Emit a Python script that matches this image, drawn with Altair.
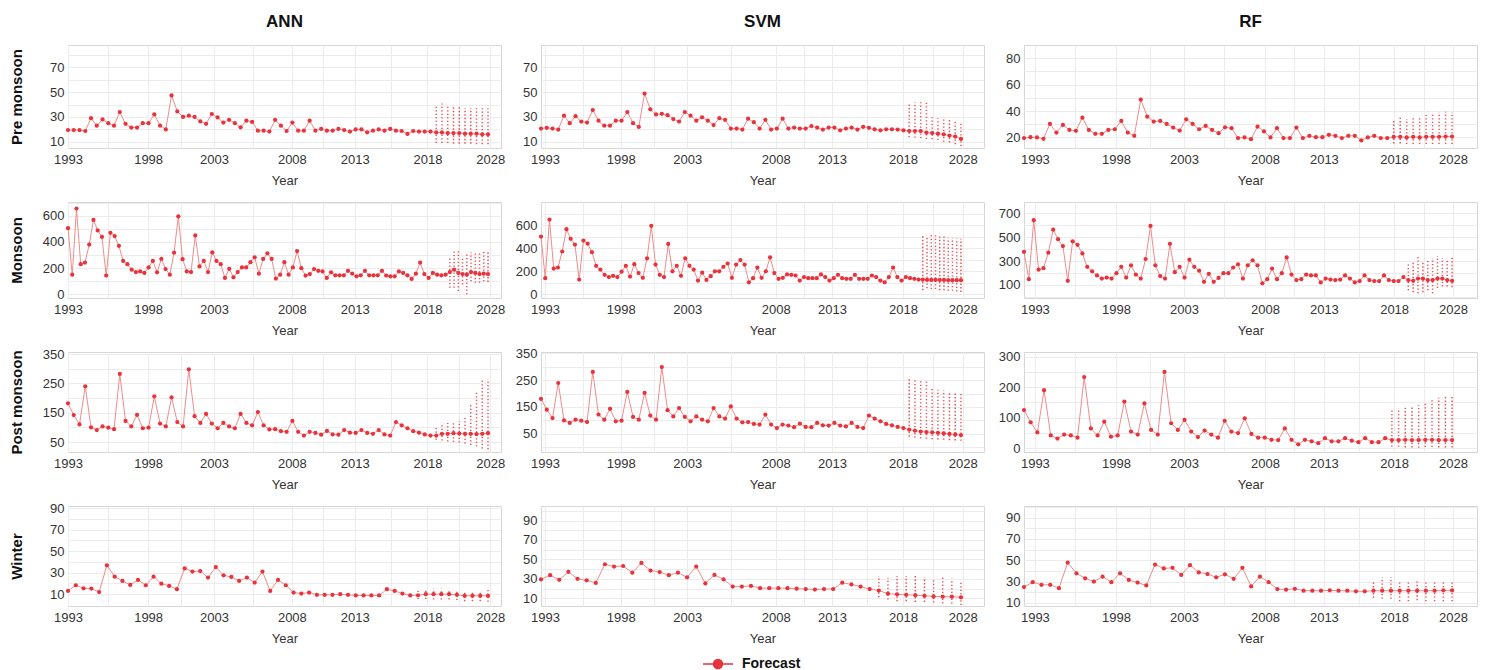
import altair as alt
import pandas as pd

FONT = "Liberation Sans"
RED = "#e8323c"
LINE_RED = "#f28b8b"
TEXT = "#333333"

MODELS = ["ANN", "SVM", "RF"]
SEASONS = ["Pre monsoon", "Monsoon", "Post monsoon", "Winter"]
YEAR_LABELS = ["1993", "1998", "2003", "2008", "2013", "2018", "2028"]

# ---------------- data ----------------
ANN_PRE_HIST = [19.5,19.5,19.5,18.7,29,23,28,25,23,34,24.5,21.5,21.5,25,25,32,23,20,47.4,34.5,
                30,31,30,26.4,24.5,32.4,29.6,25.5,27.7,25,21.7,27,26,19,19,18.2,27.7,23,18.7,25.5,
                19,19,27,19,20.4,19,19,20.4,19.5,18.2,20,20,17.6,19,20,19,20.4,19,18.7,16.3,
                18.7,18.2,18.2,18.2]
ANN_PRE_FC = [17.5,17.5,17,17,17,16.5,16.5,16.5,16,16]
ANN_PRE_HI = [40,40.8,40,39.5,38,37,37,37,37,37]
ANN_PRE_LO = [9,9,9,8.5,8.5,8.5,8.5,8,8,8]

SVM_PRE_HIST = [20.7,21.3,20.7,19.9,31,25,30.6,26.3,25.5,35.6,27,23,23,27,27,34,25,22,48.9,36.2,
                32,32.5,31.4,28.3,26.3,34,31,27,29.7,27,23.5,29,27.7,20.7,20.7,19.9,28.6,25.8,20.7,27.7,
                19.9,20.7,28.6,20.7,21.5,20.7,20.7,22.7,21.5,19.9,21.5,21.5,19.3,20.7,21.5,19.9,22.1,21.3,20.1,19.3,
                20.1,20.1,19.9,19.3]
SVM_PRE_FC = [18.7,18.7,18.7,17.3,17,16.5,16,15,14.2,12.3]
SVM_PRE_HI = [41.8,41.8,41.8,41.8,29.7,29,28.5,27.7,27,25]
SVM_PRE_LO = [13.7,13.2,12.8,12.3,12,11.5,10,9.5,8,6.6]

RF_PRE_HIST = [19.5,20.2,20,19,30.2,23.7,29.5,25.7,25,35,25.7,22.7,22.7,25.7,26.2,32.5,23.7,21.2,48.7,35.7,
               32,32.5,30.2,27.5,25.2,33.7,30.2,26.2,28.7,25.7,23.2,27.7,27,19.5,20,18.7,28.2,24.5,20,27,
               19.5,19.5,27.5,19.5,21.2,20.2,20.2,22,21.2,19.5,21.2,21.2,17.7,20,21.2,19.5,19.5]
RF_PRE_FC = [20.5,20.5,20,20.5,20,20.5,20.5,20.5,20.7,20.7]
RF_PRE_HI = [34,35,34,35.7,35.5,37,38,39,39.5,39]
RF_PRE_LO = [15.5,15.5,15,15,15,15,15,15,15,15]

ANN_MON_HIST = [505,150,655,230,243,380,568,488,438,143,470,445,370,255,230,188,170,175,163,205,
                255,168,270,193,150,318,595,268,175,170,450,213,255,170,320,255,230,125,195,130,
                170,205,205,245,283,158,270,313,270,120,150,245,150,205,330,200,143,155,193,180,
                175,125,168,145,145,145,180,158,138,145,180,145,145,145,180,143,138,138,175,163,
                145,118,158,243,155,125,163,150,145,150]
ANN_MON_FC = [170,188,163,155,150,170,163,155,158,155]
ANN_MON_HI = [275,338,338,270,305,320,320,320,325,330]
ANN_MON_LO = [50,50,25,75,0,100,88,88,100,95]

SVM_MON_HIST = [500,140,648,223,232,371,564,481,431,128,466,440,365,247,214,169,149,160,149,196,
                247,154,261,184,143,312,594,258,169,149,437,199,247,160,312,247,214,119,187,125,
                157,199,199,238,267,143,258,297,258,104,140,232,143,199,321,184,134,143,172,169,
                163,119,149,140,140,140,172,149,119,140,169,140,134,134,169,134,134,134,163,149,
                119,104,149,232,149,119,149,140,134,128]
SVM_MON_FC = [128,125,125,125,125,125,122,122,122,122]
SVM_MON_HI = [520,500,529,529,500,500,490,490,484,481]
SVM_MON_LO = [36,53,45,45,36,36,30,30,24,21]

RF_MON_HIST = [377,148,642,227,240,370,563,483,425,134,465,436,364,251,214,179,153,161,153,198,
               251,161,264,187,153,317,594,264,174,153,444,206,251,161,311,251,219,126,193,126,
               158,198,198,245,272,153,264,306,264,113,148,237,148,198,330,187,140,148,187,179,
               179,121,153,145,140,145,179,153,121,132,179,140,132,132,179,140,132,132,166]
RF_MON_FC = [140,134,153,153,140,140,153,153,140,134]
RF_MON_HI = [272,298,351,293,311,325,343,325,311,330]
RF_MON_LO = [55,39,29,39,55,30,74,87,87,81]

ANN_POST_HIST = [182,142,110,240,100,91,103,99,94,282,122,103,143,97,99,206,113,103,202,118,
                 103,298,138,115,146,113,97,115,103,97,146,115,107,152,107,93,94,87,85,122,
                 85,72,85,81,75,88,76,75,91,82,81,91,81,78,91,76,72,118,107,97,
                 87,82,76,72]
ANN_POST_FC = [72,78,78,80,79,78,78,77,78,80]
ANN_POST_HI = [100,110,115,118,122,132,175,225,260,265]
ANN_POST_LO = [58,55,52,50,48,45,40,35,28,25]

SVM_POST_HIST = [180,140,109,239,100,91,103,99,94,280,122,103,143,97,99,206,113,103,202,118,
                 103,298,138,115,146,113,97,115,103,97,146,115,107,152,107,93,94,87,85,122,
                 85,72,85,81,75,88,76,75,91,82,81,91,81,78,91,76,72,118,107,97,
                 87,82,76,72]
SVM_POST_FC = [66,62,59,57,56,54,52,50,48,46]
SVM_POST_HI = [257,251,249,245,220,214,212,208,204,199]
SVM_POST_LO = [40,36,33,32,30,29,28,27,26,25]

RF_POST_HIST = [125,85,52,190,42,32,45,42,35,233,65,42,87,38,42,153,55,45,147,60,
                45,250,82,60,93,55,37,58,45,35,90,55,50,98,47,35,35,28,27,65,
                28,13,28,23,17,33,23,23,33,25,20,33,20,20,33]
RF_POST_FC = [27,27,28,27,27,28,28,27,27,27]
RF_POST_HI = [125,128,133,137,142,150,158,165,173,170]
RF_POST_LO = [5,5,3,3,2,4,4,3,3,3]

ANN_WIN_HIST = [13,18.3,15.5,15.2,12,36.8,26.3,22.3,18.6,23.2,18.3,26.3,19.8,17.7,14.6,34,31,31.5,25.4,35.2,
                27.5,26,22.3,25.4,20.8,31,13,23.2,18.3,11.5,10.6,11.5,9.4,9.4,9.4,10,9.4,8.8,8.8,8.8,
                8.8,14.6,13,10.6,8.8]
ANN_WIN_FC = [9,10,10,10,10,9.4,8.5,8.5,8.5,8.5]
ANN_WIN_HI = [13,14,15,15,14.5,14,13,13,13,14]
ANN_WIN_LO = [5.5,5.5,5,5,5,4.5,3.5,3.5,3.5,3]

SVM_WIN_HIST = [29.3,33.7,29,37.2,30,28.4,25.8,45,42.6,43.2,36.3,46.4,38.5,37,33.7,36.3,31.5,42.6,25.2,34,
                29.3,22,22,22.7,20.4,20.4,20.4,20.4,19.8,19.5,18.9,19.5,19.5,26,24.2,22,19.5]
SVM_WIN_FC = [17.9,14.7,14.1,13.5,13.2,12.5,11.9,11.6,11.6,11]
SVM_WIN_HI = [33,31,33,33,33,31.5,30.6,32.5,30,27.7]
SVM_WIN_LO = [11,8.7,7,7,6.2,6.2,5.6,4.6,4.6,3]

RF_WIN_HIST = [24.8,29.4,26.9,26.9,23.8,47.8,37.7,33,30,34.6,29.4,37.7,31.5,29,26.3,46,42.3,42.9,36.2,45.4,
               38.6,37,34,36.8,32.5,42.9,25.4,34.6,29.4,22.9,22.3,23.2,21.4,21.4,21.4,21.7,21.4,21.4,20.8,20.8]
RF_WIN_FC = [21.4,21.4,21.4,21.4,21.4,21.4,21.4,21.4,21.7,21.7]
RF_WIN_HI = [30,34,34,29,29,30,30,30,31,31]
RF_WIN_LO = [14.6,13.7,13.7,11.5,11.5,12.5,11.5,11.5,11.5,11.5]

SERIES = {
    ("ANN", "Pre monsoon"): (ANN_PRE_HIST, ANN_PRE_FC, ANN_PRE_HI, ANN_PRE_LO),
    ("SVM", "Pre monsoon"): (SVM_PRE_HIST, SVM_PRE_FC, SVM_PRE_HI, SVM_PRE_LO),
    ("RF", "Pre monsoon"): (RF_PRE_HIST, RF_PRE_FC, RF_PRE_HI, RF_PRE_LO),
    ("ANN", "Monsoon"): (ANN_MON_HIST, ANN_MON_FC, ANN_MON_HI, ANN_MON_LO),
    ("SVM", "Monsoon"): (SVM_MON_HIST, SVM_MON_FC, SVM_MON_HI, SVM_MON_LO),
    ("RF", "Monsoon"): (RF_MON_HIST, RF_MON_FC, RF_MON_HI, RF_MON_LO),
    ("ANN", "Post monsoon"): (ANN_POST_HIST, ANN_POST_FC, ANN_POST_HI, ANN_POST_LO),
    ("SVM", "Post monsoon"): (SVM_POST_HIST, SVM_POST_FC, SVM_POST_HI, SVM_POST_LO),
    ("RF", "Post monsoon"): (RF_POST_HIST, RF_POST_FC, RF_POST_HI, RF_POST_LO),
    ("ANN", "Winter"): (ANN_WIN_HIST, ANN_WIN_FC, ANN_WIN_HI, ANN_WIN_LO),
    ("SVM", "Winter"): (SVM_WIN_HIST, SVM_WIN_FC, SVM_WIN_HI, SVM_WIN_LO),
    ("RF", "Winter"): (RF_WIN_HIST, RF_WIN_FC, RF_WIN_HI, RF_WIN_LO),
}

# y axis: (domain, labelled ticks, minor grid)
Y_AXES = {
    ("ANN", "Pre monsoon"): ([5, 88], [10, 30, 50, 70], [20, 40, 60, 80]),
    ("SVM", "Pre monsoon"): ([5, 88], [10, 30, 50, 70], [20, 40, 60, 80]),
    ("RF", "Pre monsoon"): ([12, 90], [20, 40, 60, 80], [30, 50, 70]),
    ("ANN", "Monsoon"): ([-28, 705], [0, 200, 400, 600], [100, 300, 500, 700]),
    ("SVM", "Monsoon"): ([-32, 800], [0, 200, 400, 600], [100, 300, 500, 700]),
    ("RF", "Monsoon"): ([-10, 795], [100, 300, 500, 700], [0, 200, 400, 600]),
    ("ANN", "Post monsoon"): ([16, 357], [50, 150, 250, 350], [100, 200, 300]),
    ("SVM", "Post monsoon"): ([-17, 354], [50, 150, 250, 350], [0, 100, 200, 300]),
    ("RF", "Post monsoon"): ([-12, 315], [0, 100, 200, 300], [50, 150, 250]),
    ("ANN", "Winter"): ([-1, 92], [10, 30, 50, 70, 90], [20, 40, 60, 80]),
    ("SVM", "Winter"): ([2, 105], [10, 30, 50, 70, 90], [20, 40, 60, 80, 100]),
    ("RF", "Winter"): ([7, 101], [10, 30, 50, 70, 90], [20, 40, 60, 80, 100]),
}

# layout of each column / row
TICK_FRAC = {
    "ANN": [0.0, 0.185, 0.337, 0.517, 0.662, 0.83, 0.975],
    "SVM": [0.009, 0.18, 0.33, 0.53, 0.657, 0.817, 0.952],
    "RF": [0.024, 0.203, 0.353, 0.532, 0.662, 0.817, 0.947],
}
LAST_FRAC = {"ANN": 0.97, "SVM": 0.948, "RF": 0.945}
PANEL_W = {"ANN": 433, "SVM": 443, "RF": 453}
PANEL_H = {"Pre monsoon": 103, "Monsoon": 96, "Post monsoon": 100, "Winter": 100}

LEGEND_SYMBOL = "M-1,0L1,0M-0.3,0A0.3,0.3,0,1,1,0.3,0A0.3,0.3,0,1,1,-0.3,0Z"


def panel(model, season):
    hist, fc, hi, lo = SERIES[(model, season)]
    H = len(hist)
    N = H + len(fc)
    df = pd.DataFrame({"idx": list(range(N)), "value": list(hist) + list(fc),
                       "series": ["Forecast"] * N})
    bd = pd.DataFrame({"idx": list(range(H, N)), "lo": lo, "hi": hi})

    xmax = (N - 1) / LAST_FRAC[model]
    ticks = [round(f * xmax, 4) for f in TICK_FRAC[model]]
    mids = [round((a + b) / 2, 4) for a, b in zip(ticks[:-1], ticks[1:])]
    xvals = sorted(ticks + mids)
    tick_arr = "[" + ",".join(repr(t) for t in ticks) + "]"
    lab_arr = "[" + ",".join("'" + l + "'" for l in YEAR_LABELS) + "]"
    x_expr = f"indexof({tick_arr}, datum.value) >= 0 ? {lab_arr}[indexof({tick_arr}, datum.value)] : ''"

    ydom, ylab, yminor = Y_AXES[(model, season)]
    yvals = sorted(ylab + [m for m in yminor if ydom[0] <= m <= ydom[1]])
    ylab_arr = "[" + ",".join(str(v) for v in ylab) + "]"
    y_expr = f"indexof({ylab_arr}, datum.value) >= 0 ? datum.label : ''"

    xaxis = alt.Axis(title="Year", values=xvals, labelExpr=x_expr, labelFlush=False,
                     labelOverlap=False, ticks=False, domain=False, labelPadding=5,
                     titlePadding=8, labelFontSize=13, titleFontSize=13,
                     titleFontWeight="normal", labelColor=TEXT, titleColor=TEXT)
    left = model == "ANN"
    yaxis_kw = dict(values=yvals, labelExpr=y_expr, ticks=False, domain=False,
                    labelPadding=4, labelFontSize=13, labelColor=TEXT, labelOverlap=False)
    if left:
        yaxis = alt.Axis(title=season, titleFontSize=15, titleFontWeight="bold",
                         titleColor="#111111", titleX=-44, titleY=PANEL_H[season] / 2,
                         **yaxis_kw)
    else:
        yaxis = alt.Axis(title=None, **yaxis_kw)

    xs = alt.Scale(domain=[0, xmax], nice=False, zero=False)
    ys = alt.Scale(domain=ydom, nice=False, zero=False)

    line = alt.Chart(df).mark_line(color=LINE_RED, strokeWidth=1).encode(
        x=alt.X("idx:Q", scale=xs, axis=xaxis),
        y=alt.Y("value:Q", scale=ys, axis=yaxis),
    )
    rules = alt.Chart(bd).mark_rule(color=RED, strokeDash=[1.3, 2.2], strokeWidth=1.5,
                                   opacity=0.85).encode(
        x=alt.X("idx:Q", scale=xs, axis=xaxis),
        y=alt.Y("lo:Q", scale=ys, axis=yaxis),
        y2="hi:Q",
    )
    pts = alt.Chart(df).mark_circle(size=18, opacity=1).encode(
        x=alt.X("idx:Q", scale=xs, axis=xaxis),
        y=alt.Y("value:Q", scale=ys, axis=yaxis),
        color=alt.Color("series:N", scale=alt.Scale(domain=["Forecast"], range=[RED]),
                        legend=alt.Legend(title=None, orient="none", legendX=634, legendY=603,
                                          direction="horizontal", labelFontSize=14,
                                          labelFontWeight="bold", labelColor="#111111",
                                          labelFont=FONT, symbolType=LEGEND_SYMBOL,
                                          symbolSize=900, symbolStrokeWidth=1.5,
                                          symbolStrokeColor=RED, symbolFillColor=RED,
                                          labelOffset=8)),
    )
    ch = alt.layer(line, rules, pts).properties(width=PANEL_W[model], height=PANEL_H[season])
    if season == "Pre monsoon":
        ch = ch.properties(title=alt.TitleParams(model, fontSize=17, fontWeight="bold",
                                                 anchor="middle", offset=14, font=FONT,
                                                 color="#111111"))
    return ch


charts = [panel(m, s) for s in SEASONS for m in MODELS]

chart = alt.concat(*charts, columns=3, spacing={"row": 54, "column": 40},
                   bounds="flush", align="each").properties(
    padding={"left": 8, "top": 12, "right": 5, "bottom": 5},
    background="white",
).configure(font=FONT).configure_view(stroke="#d6d6d6", strokeWidth=1).configure_axis(
    gridColor="#ececec", gridWidth=1, labelFont=FONT, titleFont=FONT
)

chart.save("out.html", embed_options={"renderer": "svg", "actions": False})
